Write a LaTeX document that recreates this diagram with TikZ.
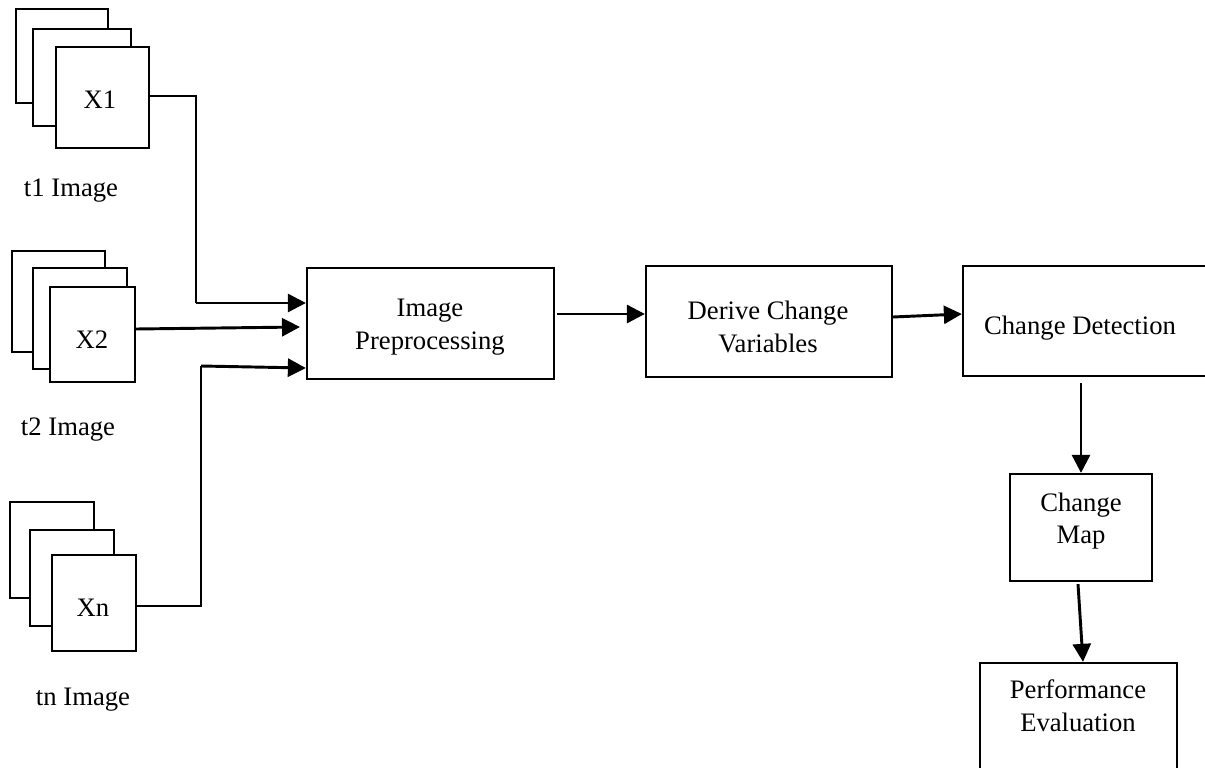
\documentclass[tikz,border=0pt]{standalone}
\usepackage{fontspec}
\setmainfont{Liberation Serif}
\usetikzlibrary{arrows.meta,fit}
\newcommand\pxu{0.75pt}
\begin{document}
\begin{tikzpicture}[x=0.75pt,y=-0.75pt,
  card/.style={draw, line width=1.6pt, fill=white, inner sep=0pt},
  stage/.style={draw, line width=1.7pt, fill=white, inner sep=0pt},
  caption/.style={inner sep=0pt, align=center,
    font=\fontsize{20}{24.5}\selectfont},
  wire/.style={line width=1.3pt},
  flow/.style={line width=2.2pt, -{Triangle[length=13.5pt,width=13.5pt]}}
]
\clip (0,0) rectangle (1205,767);
\fill[white] (0,0) rectangle (1205,767);

% ---- input image stacks ----
\node[card, fit={(16,9) (108,103)}]   (b1) {};
\node[card, fit={(33,29) (131,126)}]  (m1) {};
\node[card, fit={(56,47) (149,148)}]  (f1) {};
\node[caption] (x1) at (100,100) {X1};
\node[caption] (l1) at (71,191) {t1 Image};

\node[card, fit={(12,251) (105,352)}] (b2) {};
\node[card, fit={(33,268) (127,369)}] (m2) {};
\node[card, fit={(50,287) (135,382)}] (f2) {};
\node[caption] (x2) at (92,340) {X2};
\node[caption] (l2) at (68,430) {t2 Image};

\node[card, fit={(10,502) (94,598)}]  (b3) {};
\node[card, fit={(30,530) (114,626)}] (m3) {};
\node[card, fit={(52,555) (136,651)}] (f3) {};
\node[caption] (x3) at (93,608) {Xn};
\node[caption] (l3) at (83,700) {tn Image};

% ---- processing chain ----
\node[stage, fit={(307,268) (554,379)}] (ip)  {};
\node[caption] (ipt) at (430,327) {Image\\Preprocessing};
\node[stage, fit={(646,266) (892,377)}] (dcv) {};
\node[caption] (dcvt) at (768,327) {Derive Change\\Variables};
\node[stage, fit={(963,266) (1225,376)}] (cd) {};
\node[caption] (cdt) at (1080,328) {Change Detection};
\node[stage, fit={(1010,474) (1152,581)}] (cm) {};
\node[caption] (cmt) at (1081,521) {Change\\Map};
\node[stage, fit={(980,663) (1177,820)}] (pe) {};
\node[caption] (pet) at (1078,706) {Performance\\Evaluation};

% ---- connectors from the stacks ----
\coordinate (j1) at (196,303);
\coordinate (j3) at (201,366);
\draw[wire] (f1.east |- 0,96) -| (j1);
\draw[flow] (j1) -- (ip.west |- j1);
\draw[flow] (f2.east |- 0,329) -- (300,327);
\draw[wire] (f3.east |- 0,606) -| (j3);
\draw[flow] (j3) -- (ip.west |- 0,368);

% ---- connectors along the chain ----
\draw[flow] (557,314) -- (dcv.west |- 0,314);
\draw[flow] (dcv.east |- 0,317) -- (cd.west |- 0,314);
\draw[flow] (cm.north |- 0,383) -- (cm.north);
\draw[flow] ([xshift=-3*\pxu, yshift=-2*\pxu]cm.south) -- ([xshift=4.5*\pxu]pe.north);
\end{tikzpicture}
\end{document}
